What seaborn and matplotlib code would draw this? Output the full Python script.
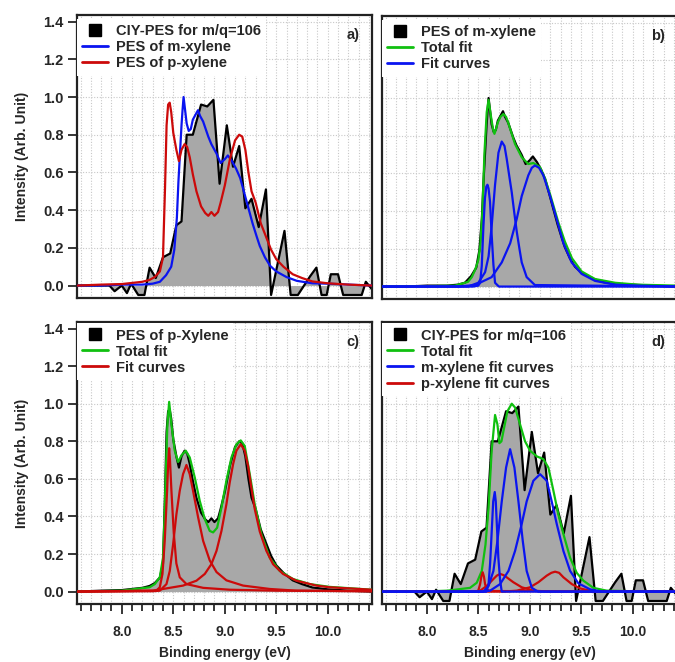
import numpy as np
import pandas as pd
import matplotlib
matplotlib.use("Agg")
import matplotlib.pyplot as plt
from matplotlib.lines import Line2D
from matplotlib.ticker import MultipleLocator
import seaborn as sns

sns.set_style("white")
plt.rcParams['font.family'] = ['Liberation Sans', 'DejaVu Sans']
plt.rcParams['font.weight'] = 'bold'
plt.rcParams['axes.labelweight'] = 'bold'

# ---------------- data ----------------
# CIY-PES for m/q=106 (panels a, d)
ciy_E = [7.57, 7.70, 7.80, 7.84, 7.88, 7.93, 8.00, 8.05, 8.09, 8.16, 8.22, 8.27, 8.33, 8.40,
         8.47, 8.53, 8.58, 8.63, 8.69, 8.77, 8.83, 8.89, 8.95, 9.02, 9.08, 9.14, 9.20, 9.26,
         9.33, 9.40, 9.45, 9.58, 9.64, 9.71, 9.77, 9.83, 9.89, 9.94, 9.99, 10.03, 10.10,
         10.15, 10.22, 10.28, 10.33, 10.37, 10.43]
ciy_v = [0.0, 0.0, 0.0, 0.0, 0.0, -0.03, 0.0, -0.04, 0.01, -0.05, -0.05, 0.095, 0.04, 0.15,
         0.17, 0.32, 0.34, 0.80, 0.80, 0.96, 0.95, 0.985, 0.54, 0.85, 0.63, 0.74, 0.41, 0.46,
         0.31, 0.51, -0.05, 0.29, -0.05, -0.05, 0.0, 0.05, 0.095, -0.05, -0.05, 0.06, 0.06,
         -0.05, -0.05, -0.05, -0.05, 0.02, -0.02]

# PES of m-xylene (panel a blue, panel b black)
m_E = [7.57, 7.80, 8.00, 8.20, 8.30, 8.37, 8.43, 8.48, 8.51, 8.535, 8.55, 8.565, 8.58, 8.59,
       8.60, 8.615, 8.63, 8.65, 8.67, 8.69, 8.72, 8.74, 8.76, 8.79, 8.84, 8.87, 8.92, 8.96,
       9.00, 9.03, 9.07, 9.11, 9.15, 9.19, 9.23, 9.27, 9.31, 9.34, 9.39, 9.44, 9.50, 9.60,
       9.70, 9.85, 10.00, 10.20, 10.43]
m_v = [0.0, 0.0, 0.005, 0.005, 0.01, 0.02, 0.055, 0.10, 0.19, 0.36, 0.55, 0.70, 0.85, 0.93,
       1.00, 0.93, 0.86, 0.82, 0.83, 0.88, 0.91, 0.93, 0.90, 0.87, 0.79, 0.75, 0.70, 0.65,
       0.67, 0.69, 0.66, 0.62, 0.57, 0.49, 0.41, 0.33, 0.26, 0.21, 0.15, 0.105, 0.075, 0.045,
       0.025, 0.012, 0.01, 0.005, 0.0]

# PES of p-xylene (panel a red, panel c black)
p_E = [7.57, 7.80, 8.00, 8.20, 8.27, 8.32, 8.37, 8.40, 8.42, 8.435, 8.45, 8.465, 8.48, 8.50,
       8.53, 8.555, 8.58, 8.61, 8.635, 8.66, 8.69, 8.725, 8.77, 8.81, 8.84, 8.87, 8.90, 8.935,
       8.96, 9.00, 9.05, 9.10, 9.14, 9.17, 9.20, 9.23, 9.26, 9.30, 9.35, 9.40, 9.45, 9.50,
       9.57, 9.66, 9.75, 9.85, 10.00, 10.20, 10.43]
p_v = [0.0, 0.005, 0.008, 0.02, 0.03, 0.045, 0.075, 0.15, 0.52, 0.85, 0.96, 0.97, 0.92, 0.81,
       0.72, 0.66, 0.72, 0.75, 0.735, 0.68, 0.59, 0.50, 0.42, 0.385, 0.37, 0.39, 0.37, 0.39,
       0.44, 0.53, 0.67, 0.77, 0.80, 0.79, 0.72, 0.60, 0.50, 0.44, 0.33, 0.26, 0.19, 0.14,
       0.10, 0.06, 0.04, 0.022, 0.012, 0.005, 0.0]

# Panel b fits
b_tot_E = [7.57, 8.0, 8.275, 8.40, 8.437, 8.47, 8.50, 8.52, 8.54, 8.56, 8.582, 8.60, 8.624,
           8.645, 8.657, 8.672, 8.689, 8.715, 8.744, 8.77, 8.79, 8.857, 8.922, 8.986, 9.035,
           9.10, 9.15, 9.197, 9.278, 9.34, 9.41, 9.504, 9.634, 9.83, 10.05, 10.43]
b_tot_v = [0.0, 0.002, 0.005, 0.025, 0.05, 0.09, 0.14, 0.22, 0.40, 0.71, 0.925, 0.99, 0.90,
           0.83, 0.81, 0.835, 0.87, 0.90, 0.915, 0.90, 0.87, 0.756, 0.686, 0.65, 0.655,
           0.633, 0.57, 0.49, 0.34, 0.24, 0.15, 0.08, 0.04, 0.02, 0.01, 0.005]
b_f1_E = [7.57, 8.45, 8.50, 8.518, 8.534, 8.55, 8.565, 8.578, 8.589, 8.60, 8.614, 8.63, 8.647,
          8.663, 8.70, 10.43]
b_f1_v = [0.0, 0.0, 0.005, 0.02, 0.11, 0.32, 0.47, 0.53, 0.54, 0.52, 0.45, 0.275, 0.116,
          0.02, 0.0, 0.0]
b_f2_E = [7.57, 8.40, 8.50, 8.566, 8.60, 8.63, 8.663, 8.696, 8.728, 8.755, 8.776, 8.80, 8.825,
          8.85, 8.874, 8.90, 8.922, 8.97, 9.05, 10.43]
b_f2_v = [0.0, 0.0, 0.02, 0.076, 0.16, 0.32, 0.54, 0.71, 0.769, 0.745, 0.678, 0.59, 0.50,
          0.39, 0.29, 0.20, 0.128, 0.05, 0.008, 0.0]
b_f3_E = [7.57, 8.30, 8.469, 8.63, 8.728, 8.81, 8.874, 8.922, 8.986, 9.02, 9.05, 9.09, 9.132,
          9.197, 9.26, 9.327, 9.407, 9.504, 9.634, 9.83, 10.05, 10.43]
b_f3_v = [0.0, 0.0, 0.008, 0.05, 0.128, 0.23, 0.36, 0.48, 0.59, 0.63, 0.642, 0.63, 0.59,
          0.48, 0.36, 0.23, 0.128, 0.067, 0.03, 0.01, 0.005, 0.0]

# Panel c fits
c_tot_E = [7.57, 8.0, 8.27, 8.32, 8.369, 8.40, 8.415, 8.427, 8.443, 8.46, 8.482, 8.514, 8.547,
           8.579, 8.621, 8.66, 8.709, 8.757, 8.806, 8.854, 8.887, 8.926, 8.968, 9.016, 9.065,
           9.113, 9.155, 9.194, 9.243, 9.291, 9.356, 9.437, 9.534, 9.663, 9.825, 10.02, 10.43]
c_tot_v = [0.0, 0.005, 0.023, 0.04, 0.076, 0.18, 0.40, 0.625, 0.89, 1.01, 0.89, 0.75, 0.69,
           0.725, 0.75, 0.714, 0.607, 0.483, 0.386, 0.323, 0.315, 0.34, 0.447, 0.59, 0.714,
           0.784, 0.805, 0.775, 0.625, 0.465, 0.305, 0.18, 0.11, 0.067, 0.04, 0.025, 0.01]
c_f1_E = [7.57, 8.336, 8.369, 8.395, 8.417, 8.44, 8.452, 8.46, 8.468, 8.482, 8.505, 8.53,
          8.563, 8.628, 8.79, 9.048, 9.5, 10.43]
c_f1_v = [0.0, 0.005, 0.023, 0.094, 0.27, 0.537, 0.70, 0.763, 0.70, 0.537, 0.31, 0.15, 0.076,
          0.04, 0.02, 0.01, 0.005, 0.002]
c_f2_E = [7.57, 8.30, 8.369, 8.434, 8.466, 8.498, 8.53, 8.563, 8.595, 8.628, 8.66, 8.692,
          8.741, 8.79, 8.854, 8.92, 9.016, 9.178, 9.437, 9.695, 10.43]
c_f2_v = [0.0, 0.002, 0.005, 0.04, 0.11, 0.25, 0.41, 0.537, 0.625, 0.674, 0.625, 0.537, 0.396,
          0.27, 0.166, 0.104, 0.06, 0.032, 0.014, 0.005, 0.002]
c_f3_E = [7.57, 8.30, 8.40, 8.595, 8.725, 8.806, 8.87, 8.92, 8.968, 9.016, 9.048, 9.081, 9.113,
          9.155, 9.194, 9.226, 9.259, 9.291, 9.34, 9.404, 9.469, 9.566, 9.695, 9.889, 10.02,
          10.43]
c_f3_v = [0.0, 0.005, 0.014, 0.032, 0.058, 0.094, 0.146, 0.217, 0.323, 0.465, 0.58, 0.678,
          0.75, 0.784, 0.75, 0.67, 0.55, 0.44, 0.32, 0.217, 0.146, 0.094, 0.058, 0.032, 0.023,
          0.01]

# Panel d fits
d_tot_E = [7.57, 7.935, 8.2, 8.42, 8.485, 8.534, 8.57, 8.60, 8.63, 8.663, 8.686, 8.705, 8.725,
           8.744, 8.783, 8.825, 8.857, 8.906, 8.954, 9.003, 9.068, 9.132, 9.181, 9.23, 9.278,
           9.327, 9.392, 9.456, 9.521, 9.618, 9.747, 10.0, 10.43]
d_tot_v = [0.0, 0.0, 0.005, 0.02, 0.047, 0.11, 0.25, 0.448, 0.75, 0.94, 0.89, 0.79, 0.80,
           0.853, 0.96, 1.0, 0.98, 0.89, 0.80, 0.75, 0.72, 0.705, 0.66, 0.536, 0.41, 0.306,
           0.18, 0.10, 0.058, 0.02, 0.005, 0.002, 0.0]
d_m1_E = [7.57, 8.58, 8.60, 8.615, 8.631, 8.645, 8.66, 8.67, 8.68, 8.695, 8.712, 8.728, 10.43]
d_m1_v = [0.0, 0.0, 0.04, 0.15, 0.325, 0.48, 0.53, 0.48, 0.36, 0.18, 0.06, 0.0, 0.0]
d_m2_E = [7.57, 8.55, 8.60, 8.647, 8.686, 8.728, 8.77, 8.809, 8.851, 8.89, 8.932, 8.97, 9.02,
          9.08, 10.43]
d_m2_v = [0.0, 0.0, 0.03, 0.11, 0.27, 0.48, 0.66, 0.758, 0.66, 0.48, 0.27, 0.11, 0.02, 0.0, 0.0]
d_m3_E = [7.57, 8.55, 8.615, 8.712, 8.793, 8.857, 8.922, 8.97, 9.035, 9.10, 9.165, 9.213,
          9.262, 9.327, 9.392, 9.472, 9.586, 9.70, 10.43]
d_m3_v = [0.0, 0.0, 0.005, 0.04, 0.11, 0.216, 0.36, 0.48, 0.59, 0.625, 0.59, 0.48, 0.36,
          0.216, 0.11, 0.044, 0.012, 0.0, 0.0]
d_p1_E = [7.57, 8.48, 8.50, 8.518, 8.53, 8.543, 8.555, 8.566, 8.582, 8.62, 10.43]
d_p1_v = [0.0, 0.0, 0.005, 0.04, 0.08, 0.103, 0.08, 0.04, 0.01, 0.003, 0.0]
d_p2_E = [7.57, 8.45, 8.518, 8.582, 8.647, 8.68, 8.712, 8.745, 8.776, 8.84, 8.922, 9.035, 9.2,
          10.43]
d_p2_v = [0.0, 0.0, 0.005, 0.03, 0.067, 0.085, 0.094, 0.088, 0.076, 0.05, 0.023, 0.005, 0.0, 0.0]
d_p3_E = [7.57, 8.75, 8.874, 9.003, 9.084, 9.165, 9.21, 9.246, 9.285, 9.327, 9.408, 9.489,
          9.618, 10.43]
d_p3_v = [0.0, 0.0, 0.005, 0.023, 0.05, 0.085, 0.10, 0.106, 0.10, 0.076, 0.04, 0.017, 0.0, 0.0]

x_ticks = [8.0, 8.5, 9.0, 9.5, 10.0]
x_tick_labels = ["8.0", "8.5", "9.0", "9.5", "10.0"]
y_ticks = [0.0, 0.2, 0.4, 0.6, 0.8, 1.0, 1.2, 1.4]
y_tick_labels = ["0.0", "0.2", "0.4", "0.6", "0.8", "1.0", "1.2", "1.4"]

# ---------------- style ----------------
BLACK = "#000000"
GRAY = "#a8a8a8"
BLUE = "#0a14f0"
RED = "#cc0a0a"
GREEN = "#10c010"
LW = 1.6

fig = plt.figure(figsize=(6.75, 6.62), dpi=100)
W, H = 675.0, 662.0
def pos(l, t, r, b):
    return [l / W, 1 - b / H, (r - l) / W, (b - t) / H]

ax_a = fig.add_axes(pos(77, 15, 372, 298))
ax_b = fig.add_axes(pos(382, 16, 677, 299))
ax_c = fig.add_axes(pos(77, 322, 372, 604))
ax_d = fig.add_axes(pos(382, 322, 677, 604))
axes = [ax_a, ax_b, ax_c, ax_d]


def line(ax, E, v, color, z=3):
    sns.lineplot(x=E, y=v, ax=ax, color=color, linewidth=LW, legend=False, zorder=z)


def shaded(ax, E, v):
    ax.fill_between(E, v, 0, color=GRAY, linewidth=0, zorder=1)
    line(ax, E, v, BLACK, z=2)


# panel a
shaded(ax_a, ciy_E, ciy_v)
line(ax_a, m_E, m_v, BLUE)
line(ax_a, p_E, p_v, RED)
# panel b
shaded(ax_b, m_E, m_v)
line(ax_b, b_tot_E, b_tot_v, GREEN)
for E, v in [(b_f1_E, b_f1_v), (b_f2_E, b_f2_v), (b_f3_E, b_f3_v)]:
    line(ax_b, E, v, BLUE, z=4)
# panel c
shaded(ax_c, p_E, p_v)
line(ax_c, c_tot_E, c_tot_v, GREEN)
for E, v in [(c_f1_E, c_f1_v), (c_f2_E, c_f2_v), (c_f3_E, c_f3_v)]:
    line(ax_c, E, v, RED, z=4)
# panel d
shaded(ax_d, ciy_E, ciy_v)
line(ax_d, d_tot_E, d_tot_v, GREEN)
for E, v in [(d_p1_E, d_p1_v), (d_p2_E, d_p2_v), (d_p3_E, d_p3_v)]:
    line(ax_d, E, v, RED, z=4)
for E, v in [(d_m1_E, d_m1_v), (d_m2_E, d_m2_v), (d_m3_E, d_m3_v)]:
    line(ax_d, E, v, BLUE, z=5)

for ax in axes:
    ax.set_xlim(7.565, 10.43)
    ax.set_ylim(-0.066, 1.435)
    ax.set_xticks(x_ticks)
    ax.xaxis.set_minor_locator(MultipleLocator(0.1))
    ax.set_yticks(y_ticks)
    ax.grid(True, which='both', axis='x', color='#c8c8c8', linestyle=(0, (1, 1.5)), linewidth=0.8, zorder=0)
    ax.grid(True, which='major', axis='y', color='#c8c8c8', linestyle=(0, (1, 1.5)), linewidth=0.8, zorder=0)
    ax.set_axisbelow(True)
    for s in ax.spines.values():
        s.set_color('#222222')
        s.set_linewidth(1.6)
    ax.set_xlabel("")
    ax.set_ylabel("")

for ax in [ax_a, ax_c]:
    ax.set_yticklabels(y_tick_labels)
    ax.tick_params(axis='y', which='major', direction='out', length=6.5, width=1.3,
                   labelsize=10.5, pad=3, left=True)
    ax.set_ylabel("Intensity (Arb. Unit)", fontsize=10, fontweight='bold', labelpad=10)
for ax in [ax_b, ax_d]:
    ax.tick_params(axis='y', which='both', length=0, labelleft=False)
for ax in [ax_a, ax_b]:
    ax.tick_params(axis='x', which='both', length=0, labelbottom=False)
for ax in [ax_c, ax_d]:
    ax.set_xticklabels(x_tick_labels)
    ax.tick_params(axis='x', which='major', direction='out', length=7, width=1.3,
                   labelsize=10, pad=8, bottom=True)
    ax.tick_params(axis='x', which='minor', direction='out', length=5, width=1.3, bottom=True)
    ax.set_xlabel("Binding energy (eV)", fontsize=10, fontweight='bold', labelpad=5.5)

for ax in axes:
    for lab in ax.get_xticklabels() + ax.get_yticklabels():
        lab.set_fontweight('bold')

for ax, t in zip(axes, ["a)", "b)", "c)", "d)"]):
    ax.text(0.936, 0.93, t, transform=ax.transAxes, ha='center', va='center',
            fontsize=10.5, fontweight='bold', zorder=10)


def sq():
    return Line2D([], [], marker='s', color=BLACK, linestyle='None', markersize=8.5)


def ln(c):
    return Line2D([], [], color=c, linewidth=2)


legends = [
    (ax_a, [sq(), ln(BLUE), ln(RED)], ["CIY-PES for m/q=106", "PES of m-xylene", "PES of p-xylene"], 0.985),
    (ax_b, [sq(), ln(GREEN), ln(BLUE)], ["PES of m-xylene", "Total fit", "Fit curves"], 0.985),
    (ax_c, [sq(), ln(GREEN), ln(RED)], ["PES of p-Xylene", "Total fit", "Fit curves"], 0.995),
    (ax_d, [sq(), ln(GREEN), ln(BLUE), ln(RED)],
     ["CIY-PES for m/q=106", "Total fit", "m-xylene fit curves", "p-xylene fit curves"], 0.995),
]
for ax, h, l, top in legends:
    leg = ax.legend(h, l, loc='upper left', bbox_to_anchor=(0.0, top), frameon=True,
                    facecolor='white', edgecolor='none', framealpha=1.0, fancybox=False,
                    prop={'size': 10.5, 'weight': 'bold'}, handlelength=1.8,
                    handletextpad=0.5, labelspacing=0.14, borderpad=0.35, borderaxespad=0.0)
    leg.set_zorder(9)

fig.savefig("out.png", dpi=100)
